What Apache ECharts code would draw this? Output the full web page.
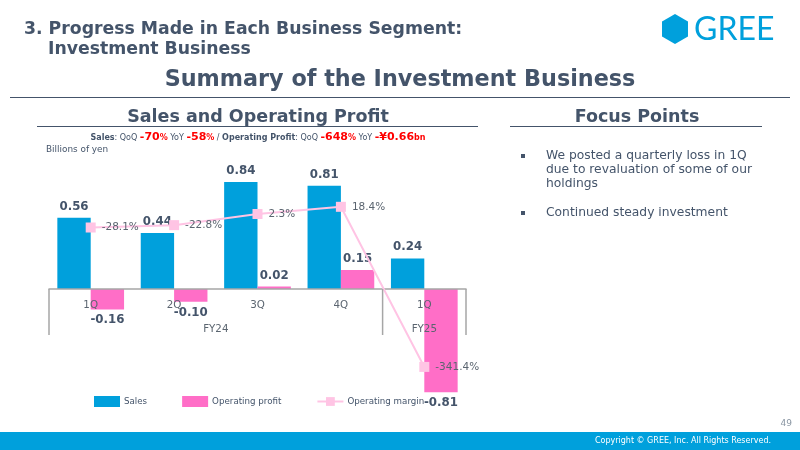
<!DOCTYPE html>
<html>
<head>
<meta charset="utf-8">
<script src="https://cdn.jsdelivr.net/npm/echarts@6/dist/echarts.min.js"></script>
<style>
  html, body { margin: 0; padding: 0; background: #fff; }
  #main { width: 800px; height: 450px; }
</style>
</head>
<body>
<div id="main"></div>
<script>
// data
const categories = ['1Q', '2Q', '3Q', '4Q', '1Q'];
const sales = [0.56, 0.44, 0.84, 0.81, 0.24];
const operatingProfit = [-0.16, -0.10, 0.02, 0.15, -0.81];
const operatingMargin = [-28.1, -22.8, 2.3, 18.4, -341.4];
const fiscalYears = [
  { name: 'FY24', from: 0, to: 3 },
  { name: 'FY25', from: 4, to: 4 }
];
const focusPoints = [
  ['We posted a quarterly loss in 1Q', 'due to revaluation of some of our', 'holdings'],
  ['Continued steady investment']
];

const DARK = '#44546a';
const GREY = '#5b6570';
const BLUE = '#00a0dc';
const PINK = '#ff6ec7';
const LINE_PINK = '#ffc4e4';
const FONT = 'DejaVu Sans';

const chart = echarts.init(document.getElementById('main'));

function txt(x, y, text, size, opts) {
  opts = opts || {};
  return {
    type: 'text', x: x, y: y, z: 10,
    style: Object.assign({
      text: text,
      fontFamily: FONT,
      fontSize: size,
      fontWeight: opts.bold ? 'bold' : 'normal',
      fill: opts.color || DARK,
      align: opts.align || 'left',
      verticalAlign: 'middle'
    }, opts.style || {})
  };
}
function hline(x1, x2, y, color, w) {
  return { type: 'line', z: 10, shape: { x1: x1, y1: y, x2: x2, y2: y }, style: { stroke: color, lineWidth: w || 1 } };
}

// hexagon logo points
const hex = [];
for (let k = 0; k < 6; k++) {
  const a = (-90 + 60 * k) * Math.PI / 180;
  hex.push([675 + 15 * Math.cos(a), 29 + 15 * Math.sin(a)]);
}

const staticGraphics = [
  txt(24, 30, '3. Progress Made in Each Business Segment:', 17.3, { bold: true }),
  txt(48, 50, 'Investment Business', 17.3, { bold: true }),
  { type: 'polygon', z: 10, shape: { points: hex }, style: { fill: BLUE } },
  txt(694, 30, 'GREE', 32, { color: BLUE, style: { fontFamily: 'Lato' } }),
  txt(400, 80, 'Summary of the Investment Business', 22.3, { bold: true, align: 'center' }),
  hline(10, 790, 97.5, DARK, 1),
  txt(258, 117, 'Sales and Operating Profit', 17.5, { bold: true, align: 'center' }),
  hline(37, 478, 126.5, DARK, 1),
  txt(637, 117, 'Focus Points', 17.5, { bold: true, align: 'center' }),
  hline(510, 762, 126.5, DARK, 1),
  {
    type: 'text', x: 258, y: 137.5, z: 10,
    style: {
      text: '{b|Sales}{n|: QoQ }{r|-70}{rs|%}{n| YoY }{r|-58}{rs|%}{n| / }{b|Operating Profit}{n|: QoQ }{r|-648}{rs|%}{n| YoY }{r|-¥0.66}{rs|bn}',
      align: 'center', verticalAlign: 'middle',
      rich: {
        b: { fontFamily: FONT, fontSize: 8, fontWeight: 'bold', fill: DARK, color: DARK },
        n: { fontFamily: FONT, fontSize: 8, fill: DARK, color: DARK },
        r: { fontFamily: FONT, fontSize: 11, fontWeight: 'bold', fill: '#ff0000', color: '#ff0000' },
        rs: { fontFamily: FONT, fontSize: 8, fontWeight: 'bold', fill: '#ff0000', color: '#ff0000' }
      }
    }
  },
  txt(46, 150, 'Billions of yen', 8.9),
  { type: 'rect', z: 1, shape: { x: 0, y: 432, width: 800, height: 18 }, style: { fill: BLUE } },
  txt(771, 441, 'Copyright © GREE, Inc. All Rights Reserved.', 8, { color: '#ffffff', align: 'right' }),
  txt(792, 424, '49', 9, { color: '#8a96a3', align: 'right' })
];

// focus point bullets
let by = 156;
focusPoints.forEach(function (lines) {
  staticGraphics.push({ type: 'rect', z: 10, shape: { x: 521, y: by - 2, width: 4, height: 4 }, style: { fill: DARK } });
  lines.forEach(function (l, i) {
    staticGraphics.push(txt(546, by + i * 14, l, 12.3));
  });
  by += lines.length * 14 + 15;
});

const labelBase = {
  show: true, fontFamily: FONT, fontSize: 11.8, fontWeight: 'bold', color: DARK, distance: 5,
  formatter: function (p) { return p.value.toFixed(2); }
};

const gridHeight = 254.8;

chart.setOption({
  animation: false,
  textStyle: { fontFamily: FONT },
  grid: { left: 49, width: 417, top: 161.6, height: gridHeight },
  legend: {
    left: 94, top: 396, padding: 0, itemWidth: 26, itemHeight: 11, itemGap: 35,
    textStyle: { fontSize: 8.7, color: DARK, fontFamily: FONT, padding: [0, 0, 0, -1] },
    itemStyle: { borderWidth: 0 },
    data: [
      { name: 'Sales', icon: 'rect' },
      { name: 'Operating profit', icon: 'rect' },
      { name: 'Operating margin' }
    ]
  },
  xAxis: {
    type: 'category',
    data: categories,
    position: 'bottom',
    offset: -gridHeight / 2,
    z: 3,
    axisLine: { onZero: false, lineStyle: { color: '#a6a6a6', width: 1.5 } },
    axisTick: { show: false },
    axisLabel: { color: GREY, fontSize: 10.3, margin: 11 }
  },
  yAxis: [
    { type: 'value', min: -1, max: 1, show: false, splitLine: { show: false } },
    { type: 'value', min: -452.6, max: 120, show: false, splitLine: { show: false } }
  ],
  series: [
    {
      name: 'Sales', type: 'bar', data: sales, barGap: '0%', barCategoryGap: '20%',
      itemStyle: { color: BLUE },
      label: Object.assign({ position: 'top' }, labelBase)
    },
    {
      name: 'Operating profit', type: 'bar',
      data: operatingProfit.map(function (v) {
        return { value: v, label: { position: v < 0 ? 'bottom' : 'top' } };
      }),
      itemStyle: { color: PINK },
      label: labelBase
    },
    {
      name: 'Operating margin', type: 'line', yAxisIndex: 1, data: operatingMargin,
      symbol: 'rect', symbolSize: 10, z: 5,
      lineStyle: { color: LINE_PINK, width: 2 },
      itemStyle: { color: LINE_PINK },
      label: {
        show: true, position: 'right', distance: 6, fontFamily: FONT, fontSize: 10.5, color: GREY,
        formatter: function (p) { return p.value.toFixed(1) + '%'; }
      }
    }
  ],
  graphic: staticGraphics
});

// fiscal-year separators and labels placed from the category scale
const c0 = chart.convertToPixel({ xAxisIndex: 0 }, 0);
const c1 = chart.convertToPixel({ xAxisIndex: 0 }, 1);
const bw = c1 - c0;
const y0 = chart.convertToPixel({ yAxisIndex: 0 }, 0);
const extra = [];
const bounds = new Set();
fiscalYears.forEach(function (fy) {
  const left = chart.convertToPixel({ xAxisIndex: 0 }, fy.from) - bw / 2;
  const right = chart.convertToPixel({ xAxisIndex: 0 }, fy.to) + bw / 2;
  bounds.add(Math.round(left * 10) / 10);
  bounds.add(Math.round(right * 10) / 10);
  extra.push(txt((left + right) / 2, y0 + 40, fy.name, 10.3, { color: GREY, align: 'center' }));
});
bounds.forEach(function (x) {
  extra.push({ type: 'line', z: 10, shape: { x1: x, y1: y0, x2: x, y2: y0 + 46 }, style: { stroke: '#a6a6a6', lineWidth: 1.5 } });
});
chart.setOption({ graphic: staticGraphics.concat(extra) }, { replaceMerge: ['graphic'] });
</script>
</body>
</html>
